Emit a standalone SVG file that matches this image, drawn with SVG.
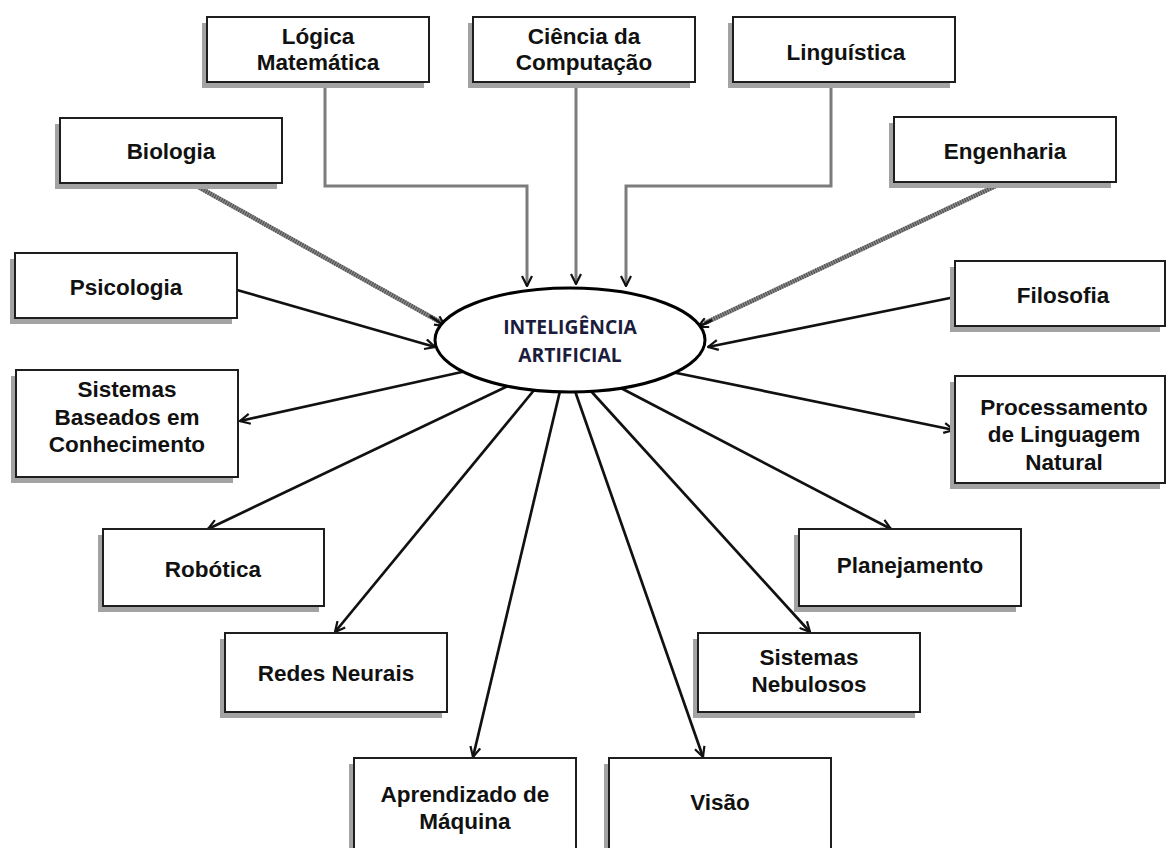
<svg xmlns="http://www.w3.org/2000/svg" width="1167" height="848" viewBox="0 0 1167 848">
  <style>
    .bg { fill: #ffffff; }
    .shadow { fill: #a3a3a3; }
    .box { fill: #ffffff; stroke: #1e1e1e; stroke-width: 2; }
    .label { font-family: "Liberation Sans", Arial, sans-serif; font-weight: bold; font-size: 22.5px; fill: #111111; text-anchor: middle; }
    .core { font-family: "Open Sans", Lato, sans-serif; font-weight: 700; font-size: 19.3px; fill: #1c1c3c; text-anchor: middle; }
    .feed { fill: none; stroke: #7c7c7c; stroke-width: 3; }
    .hatch-base { fill: none; stroke: #8a8a8a; stroke-width: 4.5; }
    .hatch { fill: none; stroke: #4a4a4a; stroke-width: 4.5; stroke-dasharray: 1 1.5; }
    .solid { fill: none; stroke: #111111; stroke-width: 2.7; }
  </style>
  <defs>
    <marker id="arrow" viewBox="0 0 12 12" refX="11" refY="6" markerWidth="12" markerHeight="12" markerUnits="userSpaceOnUse" orient="auto">
      <path d="M1,1 L11,6 L1,11" fill="none" stroke="#111111" stroke-width="2.2"/>
    </marker>
  </defs>

  <rect class="bg" x="0" y="0" width="1167" height="848"/>

  <!-- connectors -->
  <g id="connectors">
    <!-- inputs from the top -->
    <polyline class="feed" points="325,82 325,186 527,186 527,286" marker-end="url(#arrow)"/>
    <line class="feed" x1="576" y1="82" x2="576" y2="284" marker-end="url(#arrow)"/>
    <polyline class="feed" points="831,82 831,186 626,186 626,286" marker-end="url(#arrow)"/>
    <!-- hatched inputs -->
    <line class="hatch-base" x1="193" y1="184" x2="440" y2="322"/>
    <line class="hatch" x1="193" y1="184" x2="440" y2="322"/>
    <line class="solid" x1="430" y1="316" x2="445" y2="326" marker-end="url(#arrow)"/>
    <line class="hatch-base" x1="1002" y1="183" x2="705" y2="323"/>
    <line class="hatch" x1="1002" y1="183" x2="705" y2="323"/>
    <line class="solid" x1="712" y1="320" x2="698" y2="327" marker-end="url(#arrow)"/>
    <!-- side inputs -->
    <line class="solid" x1="237" y1="290" x2="435" y2="347" marker-end="url(#arrow)"/>
    <line class="solid" x1="955" y1="297" x2="708" y2="347" marker-end="url(#arrow)"/>
    <!-- outputs -->
    <line class="solid" x1="480" y1="368" x2="240" y2="421" marker-end="url(#arrow)"/>
    <line class="solid" x1="652" y1="368" x2="954" y2="430" marker-end="url(#arrow)"/>
    <line class="solid" x1="512" y1="384" x2="208" y2="529" marker-end="url(#arrow)"/>
    <line class="solid" x1="617" y1="386" x2="891" y2="529" marker-end="url(#arrow)"/>
    <line class="solid" x1="535" y1="389" x2="335" y2="632" marker-end="url(#arrow)"/>
    <line class="solid" x1="590" y1="390" x2="810" y2="632" marker-end="url(#arrow)"/>
    <line class="solid" x1="560" y1="391" x2="473" y2="757" marker-end="url(#arrow)"/>
    <line class="solid" x1="575" y1="391" x2="703" y2="757" marker-end="url(#arrow)"/>
  </g>

  <!-- central concept -->
  <g id="ia">
    <ellipse cx="570" cy="340" rx="135" ry="52" fill="#ffffff" stroke="#000000" stroke-width="3"/>
    <text class="core" x="570" y="334">INTELIGÊNCIA</text>
    <text class="core" x="570" y="362">ARTIFICIAL</text>
  </g>

  <g id="logica">
    <rect class="shadow" x="202" y="23" width="222" height="65"/>
    <rect class="box" x="207" y="17" width="222" height="65"/>
    <text class="label" x="318" y="44">Lógica</text>
    <text class="label" x="318" y="70">Matemática</text>
  </g>

  <g id="ciencia">
    <rect class="shadow" x="468" y="23" width="222" height="65"/>
    <rect class="box" x="473" y="17" width="222" height="65"/>
    <text class="label" x="584" y="44">Ciência da</text>
    <text class="label" x="584" y="70">Computação</text>
  </g>

  <g id="linguistica">
    <rect class="shadow" x="728" y="23" width="222" height="65"/>
    <rect class="box" x="733" y="17" width="222" height="65"/>
    <text class="label" x="846" y="60">Linguística</text>
  </g>

  <g id="biologia">
    <rect class="shadow" x="55" y="124" width="222" height="65"/>
    <rect class="box" x="60" y="118" width="222" height="65"/>
    <text class="label" x="171" y="159">Biologia</text>
  </g>

  <g id="engenharia">
    <rect class="shadow" x="889" y="123" width="222" height="65"/>
    <rect class="box" x="894" y="117" width="222" height="65"/>
    <text class="label" x="1005" y="159">Engenharia</text>
  </g>

  <g id="psicologia">
    <rect class="shadow" x="10" y="259" width="222" height="65"/>
    <rect class="box" x="15" y="253" width="222" height="65"/>
    <text class="label" x="126" y="295">Psicologia</text>
  </g>

  <g id="filosofia">
    <rect class="shadow" x="950" y="267" width="210" height="65"/>
    <rect class="box" x="955" y="261" width="210" height="65"/>
    <text class="label" x="1063" y="303">Filosofia</text>
  </g>

  <g id="sistemas-baseados">
    <rect class="shadow" x="11" y="376" width="222" height="107"/>
    <rect class="box" x="16" y="370" width="222" height="107"/>
    <text class="label" x="127" y="397">Sistemas</text>
    <text class="label" x="127" y="425">Baseados em</text>
    <text class="label" x="127" y="452">Conhecimento</text>
  </g>

  <g id="processamento">
    <rect class="shadow" x="950" y="382" width="210" height="107"/>
    <rect class="box" x="955" y="376" width="210" height="107"/>
    <text class="label" x="1064" y="415">Processamento</text>
    <text class="label" x="1064" y="442">de Linguagem</text>
    <text class="label" x="1064" y="470">Natural</text>
  </g>

  <g id="robotica">
    <rect class="shadow" x="98" y="535" width="221" height="77"/>
    <rect class="box" x="103" y="529" width="221" height="77"/>
    <text class="label" x="213" y="577">Robótica</text>
  </g>

  <g id="planejamento">
    <rect class="shadow" x="794" y="535" width="222" height="77"/>
    <rect class="box" x="799" y="529" width="222" height="77"/>
    <text class="label" x="910" y="573">Planejamento</text>
  </g>

  <g id="redes-neurais">
    <rect class="shadow" x="220" y="639" width="222" height="79"/>
    <rect class="box" x="225" y="633" width="222" height="79"/>
    <text class="label" x="336" y="681">Redes Neurais</text>
  </g>

  <g id="sistemas-nebulosos">
    <rect class="shadow" x="693" y="639" width="222" height="79"/>
    <rect class="box" x="698" y="633" width="222" height="79"/>
    <text class="label" x="809" y="665">Sistemas</text>
    <text class="label" x="809" y="692">Nebulosos</text>
  </g>

  <g id="aprendizado">
    <rect class="shadow" x="349" y="764" width="222" height="100"/>
    <rect class="box" x="354" y="758" width="222" height="100"/>
    <text class="label" x="465" y="802">Aprendizado de</text>
    <text class="label" x="465" y="829">Máquina</text>
  </g>

  <g id="visao">
    <rect class="shadow" x="604" y="764" width="222" height="100"/>
    <rect class="box" x="609" y="758" width="222" height="100"/>
    <text class="label" x="720" y="810">Visão</text>
  </g>
</svg>
